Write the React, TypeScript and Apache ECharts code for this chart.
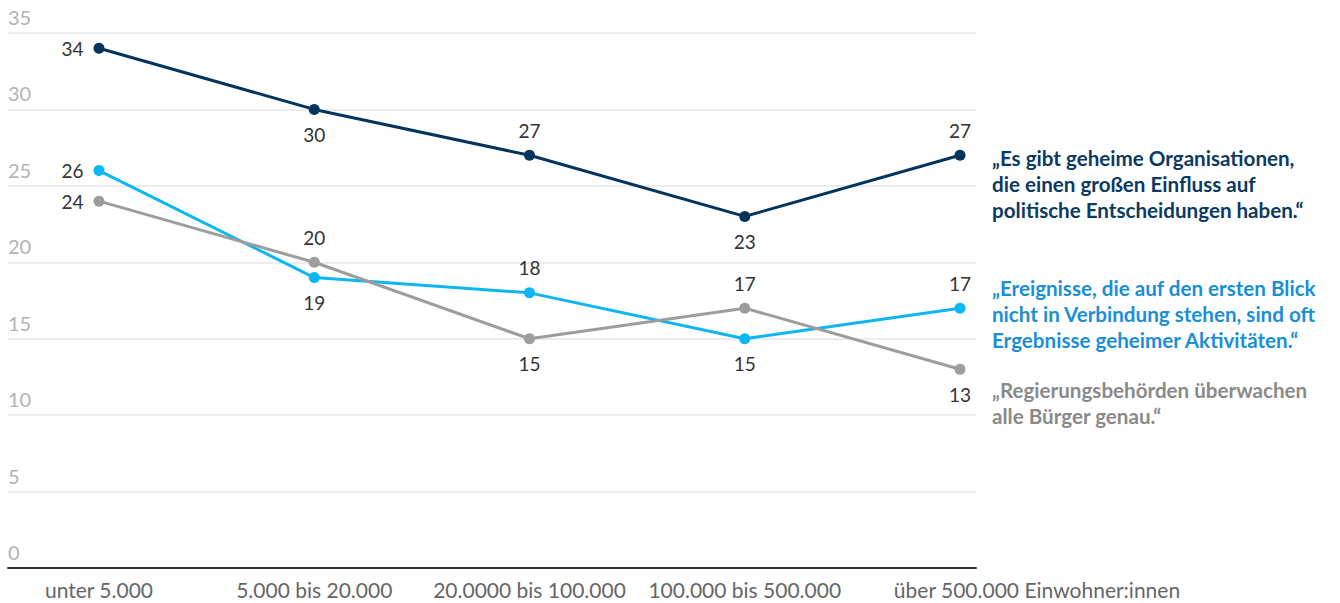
import React, { useEffect, useRef } from "react";
import * as echarts from "echarts";

const categories = [
  "unter 5.000",
  "5.000 bis 20.000",
  "20.0000 bis 100.000",
  "100.000 bis 500.000",
  "über 500.000 Einwohner:innen",
];

const geheimeOrganisationen = [34, 30, 27, 23, 27];
const ereignisse = [26, 19, 18, 15, 17];
const regierung = [24, 20, 15, 17, 13];

const labelPosOrganisationen = ["left", "bottom", "top", "bottom", "top"];
const labelPosEreignisse = ["left", "bottom", "top", "bottom", "top"];
const labelPosRegierung = ["left", "top", "bottom", "top", "bottom"];

const yTicks = { min: 0, max: 35, interval: 5 };

const legendTexts = [
  "„Es gibt geheime Organisationen,\ndie einen großen Einfluss auf\npolitische Entscheidungen haben.“",
  "„Ereignisse, die auf den ersten Blick\nnicht in Verbindung stehen, sind oft\nErgebnisse geheimer Aktivitäten.“",
  "„Regierungsbehörden überwachen\nalle Bürger genau.“",
];

const NAVY = "#03345c";
const CYAN = "#0cb6f3";
const GRAY = "#9d9d9d";
const FONT = "Lato, 'Noto Sans', sans-serif";

function makeSeries(name: string, values: number[], positions: string[], color: string) {
  return {
    name,
    type: "line",
    xAxisIndex: 1,
    yAxisIndex: 1,
    symbol: "circle",
    symbolSize: 11,
    lineStyle: { color, width: 3 },
    itemStyle: { color },
    z: 3,
    data: values.map((v, i) => ({
      value: v,
      label: {
        show: true,
        position: positions[i],
        distance: 10,
        color: "#333333",
        fontSize: 19,
        fontFamily: FONT,
      },
    })),
  };
}

export default function App() {
  const ref = useRef<HTMLDivElement>(null);

  useEffect(() => {
    document.body.style.margin = "0";
    if (!ref.current) return;
    const chart = echarts.init(ref.current, undefined, { renderer: "svg" });
    const last = categories.length - 1;
    chart.setOption({
      animation: false,
      backgroundColor: "#ffffff",
      textStyle: { fontFamily: FONT },
      grid: [
        { left: 8, right: 364, top: 33, bottom: 35 },
        { left: 99, right: 380, top: 33, bottom: 35 },
      ],
      xAxis: [
        {
          type: "value",
          gridIndex: 0,
          min: 0,
          max: 1,
          axisLabel: { show: false },
          axisTick: { show: false },
          splitLine: { show: false },
          axisLine: { show: true, onZero: false, lineStyle: { color: "#333333", width: 2 } },
        },
        {
          type: "category",
          gridIndex: 1,
          data: categories,
          boundaryGap: false,
          axisLine: { show: false },
          axisTick: { show: false },
          axisLabel: {
            color: "#666666",
            fontSize: 21,
            fontFamily: FONT,
            margin: 11,
            interval: 0,
            formatter: (v: string, i: number) => (i === last ? "{last|" + v + "}" : v),
            rich: {
              last: {
                color: "#666666",
                fontSize: 21,
                fontFamily: FONT,
                padding: [0, 0, 0, 154],
              },
            },
          },
        },
      ],
      yAxis: [
        {
          type: "value",
          gridIndex: 0,
          min: yTicks.min,
          max: yTicks.max,
          interval: yTicks.interval,
          axisLine: { show: false },
          axisTick: { show: false },
          splitLine: { lineStyle: { color: "#e6e6e6", width: 1.5 } },
          axisLabel: {
            inside: true,
            color: "#b3b3b3",
            fontSize: 20,
            fontFamily: FONT,
            verticalAlign: "bottom",
            padding: [0, 0, 6, 0],
            margin: 0,
          },
        },
        {
          type: "value",
          gridIndex: 1,
          min: yTicks.min,
          max: yTicks.max,
          show: false,
          splitLine: { show: false },
        },
      ],
      series: [
        makeSeries("Geheime Organisationen", geheimeOrganisationen, labelPosOrganisationen, NAVY),
        makeSeries("Ereignisse", ereignisse, labelPosEreignisse, CYAN),
        makeSeries("Regierungsbehörden", regierung, labelPosRegierung, GRAY),
      ],
      graphic: [
        {
          type: "text",
          left: 992,
          top: 145,
          style: {
            text: legendTexts[0],
            fill: "#0b3a62",
            font: "bold 20.6px " + FONT,
            lineHeight: 26,
          },
        },
        {
          type: "text",
          left: 992,
          top: 275,
          style: {
            text: legendTexts[1],
            fill: "#1a8fd6",
            font: "bold 20.6px " + FONT,
            lineHeight: 26,
          },
        },
        {
          type: "text",
          left: 992,
          top: 377,
          style: {
            text: legendTexts[2],
            fill: "#8a8a8a",
            font: "bold 20.6px " + FONT,
            lineHeight: 26,
          },
        },
      ],
    });
    return () => chart.dispose();
  }, []);

  return (
    <div
      ref={ref}
      style={{ position: "absolute", left: 0, top: 0, width: 1340, height: 603 }}
    />
  );
}
